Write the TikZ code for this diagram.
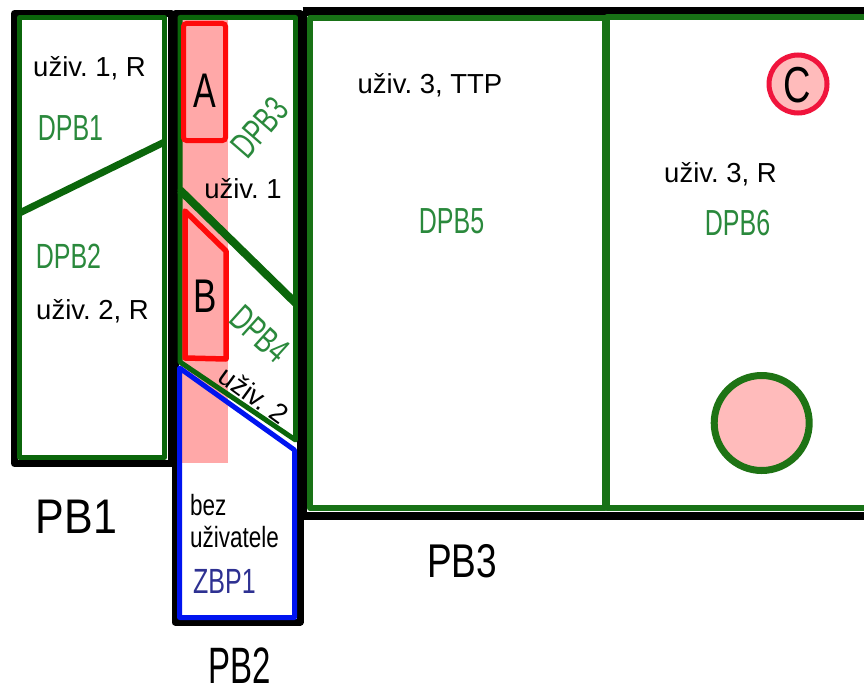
\documentclass[tikz,border=0pt]{standalone}
\usepackage{fontspec}
\setmainfont{Liberation Sans}
\frenchspacing
\definecolor{dgreen}{RGB}{11,102,11}
\definecolor{lgreen}{RGB}{24,114,22}
\definecolor{cgreen}{RGB}{30,115,20}
\definecolor{tgreen}{RGB}{42,137,60}
\definecolor{tblue}{RGB}{46,49,146}
\definecolor{bblue}{RGB}{0,20,240}
\definecolor{pinkA}{RGB}{255,168,168}
\definecolor{pinkC}{RGB}{255,187,187}
\definecolor{redA}{RGB}{255,10,10}
\definecolor{redC}{RGB}{240,20,60}
\newcommand\ys[2]{\scalebox{1}[#1]{#2}}
\tikzset{
  blk/.style={draw=black, line width=7pt, line join=round},
  grn/.style={draw=dgreen, line width=5pt, line join=round},
  grn2/.style={draw=lgreen, line width=6pt, line join=round},
  utxt/.style={font=\fontsize{27.5}{30}\selectfont, inner sep=0pt, anchor=base},
  gtxt/.style={text=tgreen, font=\fontsize{25}{28}\selectfont, inner sep=0pt, anchor=base},
  ptxt/.style={inner sep=0pt, anchor=base},
}
\begin{document}
\begin{tikzpicture}[x=1pt,y=-1pt]
\useasboundingbox (0,0) rectangle (864,685);
\clip (0,0) rectangle (864,685);
\fill[white] (0,0) rectangle (864,685);
% pink strip
\fill[pinkA] (180,20) rectangle (228,463);
% PB1
\draw[blk] (14.5,13.5) rectangle (171,463.5);
\draw[grn] (19.5,17.5) rectangle (164.5,457.5);
\draw[draw=dgreen, line width=7pt] (19.5,213) -- (164.5,142);
% PB2
\draw[blk] (175,13.5) -- (300,13.5) -- (300,622) -- (175,622) -- cycle;
\draw[grn] (180,17.5) -- (295.5,17.5) -- (295.5,303) -- (180,190) -- cycle;
\draw[grn] (180,190) -- (295.5,303) -- (295.5,440) -- (180,362) -- cycle;
\draw[draw=dgreen, line width=8pt] (180,190) -- (295.5,303);
\draw[draw=bblue, line width=5pt, line join=round] (179.5,368) -- (294.5,450) -- (294.5,617.5) -- (179.5,617.5) -- cycle;
\draw[draw=redA, line width=5pt, fill=pinkA, rounded corners=3pt] (183.5,23.5) rectangle (225.5,140.5);
\draw[draw=redA, line width=5.5pt, fill=pinkA, line join=round] (185,211) -- (226,251) -- (226,359) -- (185,358) -- cycle;
% PB3
\draw[draw=black, line width=8.5pt, line join=round] (302.5,11.5) -- (900,11.5) (302.5,11.5) -- (302.5,516) -- (900,516);
\draw[grn2] (310,18) rectangle (605,508);
\draw[grn2] (606.5,17.5) rectangle (900,507.5);
\draw[draw=redC, line width=5pt, fill=pinkC] (798,84) circle (29);
\draw[draw=cgreen, line width=7pt, fill=pinkC] (761.7,423) circle (47.5);
% texts
\node[utxt] (u1r) at (89.5,77) {uživ. 1, R};
\node[gtxt] (dpb1) at (70.5,140) {\ys{1.45}{DPB1}};
\node[gtxt] (dpb2) at (68.5,268) {\ys{1.4}{DPB2}};
\node[utxt] (u2r) at (92.5,319) {uživ. 2, R};
\node[ptxt, font=\fontsize{43}{46}\selectfont] (pb1) at (76.5,533) {\ys{1.13}{PB1}};
\node[ptxt, font=\fontsize{34}{36}\selectfont] (la) at (205,107) {\ys{1.43}{A}};
\node[ptxt, font=\fontsize{35}{38}\selectfont] (lb) at (205,312) {\ys{1.35}{B}};
\node[gtxt, anchor=center, rotate=49] (dpb3) at (260,127.5) {\ys{1.45}{DPB3}};
\node[utxt] (u1) at (243,198) {uživ. 1};
\node[gtxt, anchor=center, rotate=-42] (dpb4) at (259.7,334) {\ys{1.45}{DPB4}};
\node[utxt, anchor=center, rotate=-36] (u2) at (254,395) {uživ. 2};
\node[ptxt, anchor=base west, font=\fontsize{22.5}{25}\selectfont] (bez) at (190,515) {\ys{1.3}{bez}};
\node[ptxt, anchor=base west, font=\fontsize{22.5}{25}\selectfont] (uzivatele) at (190,547) {\ys{1.3}{uživatele}};
\node[ptxt, anchor=base west, text=tblue, font=\fontsize{25}{28}\selectfont] (zbp1) at (193,593) {\ys{1.4}{ZBP1}};
\node[ptxt, font=\fontsize{33}{36}\selectfont] (pb2) at (240,683) {\ys{1.55}{PB2}};
\node[utxt] (u3ttp) at (430,93) {uživ. 3, TTP};
\node[gtxt] (dpb5) at (451.5,233) {\ys{1.45}{DPB5}};
\node[ptxt, font=\fontsize{37}{40}\selectfont] (pb3) at (462,577) {\ys{1.28}{PB3}};
\node[ptxt, font=\fontsize{38}{40}\selectfont] (lc) at (797.5,102) {\ys{1.33}{C}};
\node[utxt] (u3r) at (720.5,182) {uživ. 3, R};
\node[gtxt] (dpb6) at (737.5,235) {\ys{1.45}{DPB6}};
\end{tikzpicture}
\end{document}
